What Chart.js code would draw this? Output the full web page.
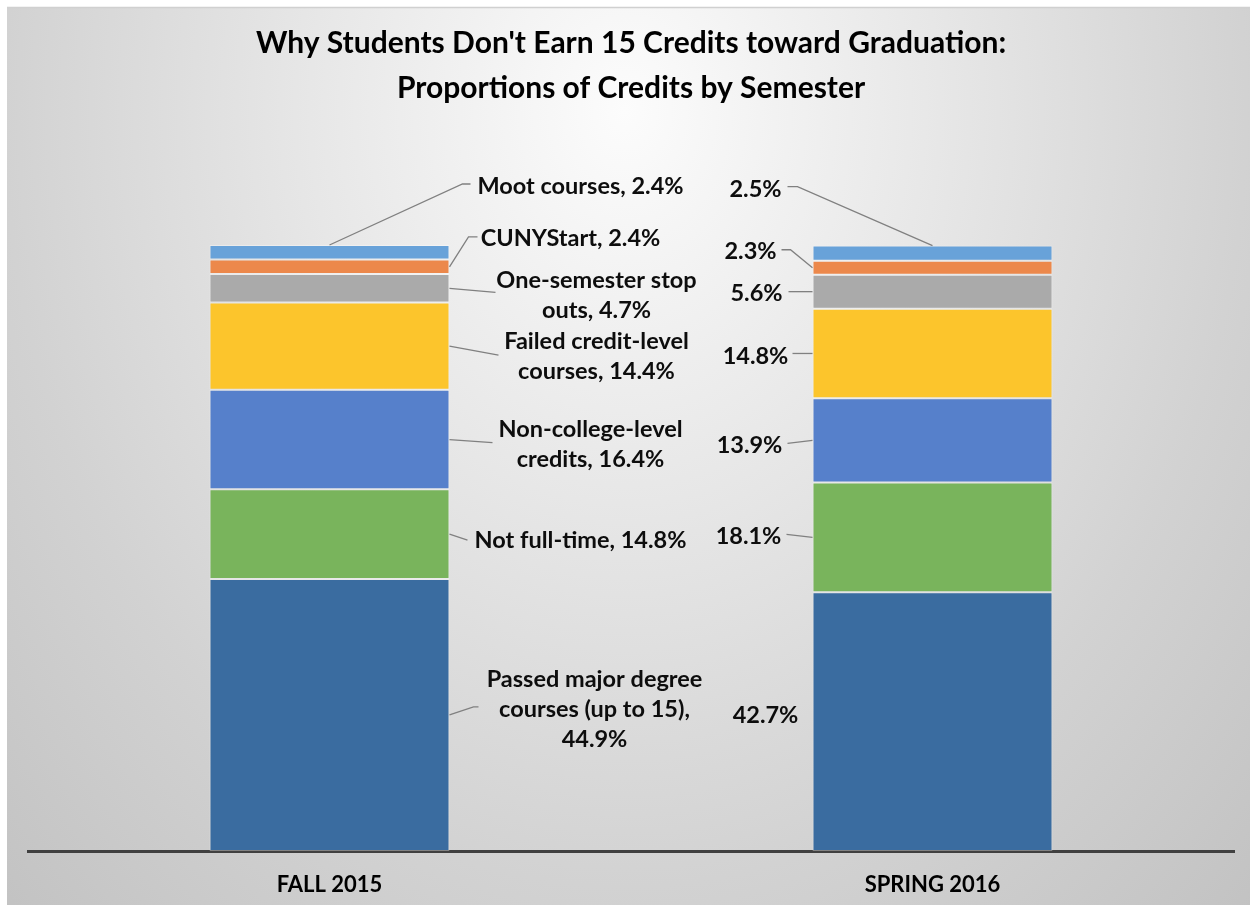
<!DOCTYPE html>
<html>
<head>
<meta charset="utf-8">
<script src="https://cdn.jsdelivr.net/npm/chart.js@4.4.1/dist/chart.umd.min.js"></script>
<style>
  html, body { margin: 0; padding: 0; background: #fff; }
  #wrap { width: 1250px; height: 905px; }
</style>
</head>
<body>
<div id="wrap"><canvas id="myChart" width="1250" height="905"></canvas></div>
<script>
// data (percent of credits)
var semesters = ['FALL 2015', 'SPRING 2016'];
var seriesNames = ['Passed major degree courses (up to 15)', 'Not full-time', 'Non-college-level credits',
    'Failed credit-level courses', 'One-semester stop outs', 'CUNYStart', 'Moot courses'];
var passed = [44.9, 42.7];
var notFullTime = [14.8, 18.1];
var nonCollege = [16.4, 13.9];
var failedCredit = [14.4, 14.8];
var stopOuts = [4.7, 5.6];
var cunyStart = [2.4, 2.3];
var moot = [2.4, 2.5];

var colors = ['#3a6ca0', '#79b45c', '#5680cb', '#fcc52c', '#aaaaaa', '#ec884b', '#68a2d9'];

// label placement (Excel moved them by hand): anchor side, leader bends, text offset, words per line
var fallPlace = [
    { from: 'right', leader: [[24, -8], [29, -8]], text: [145, -6], words: [3, 4, 1] },
    { from: 'right', leader: [[18, 6]], text: [131, 6], words: null },
    { from: 'right', leader: [[43, 3]], text: [141, 5], words: [1, 2] },
    { from: 'right', leader: [[49, 9]], text: [147, 10], words: [2, 2] },
    { from: 'right', leader: [[46, 4]], text: [147, 7], words: [2, 2] },
    { from: 'right', leader: [[19, -30], [28, -30]], text: [121, -28], words: null },
    { from: 'top', leader: [[133, -61], [141, -61]], text: [251, -59], words: null }
];
var springPlace = [
    { from: 'left', leader: [], text: [-47, -6] },
    { from: 'left', leader: [[-26, -3]], text: [-64, -1] },
    { from: 'left', leader: [[-25, 3]], text: [-63, 5] },
    { from: 'left', leader: [[-20, 0]], text: [-57, 3] },
    { from: 'left', leader: [[-24, 0]], text: [-56, 2] },
    { from: 'left', leader: [[-22, -18], [-31, -18]], text: [-62, -16] },
    { from: 'top', leader: [[-135, -59], [-145, -59]], text: [-177, -56] }
];
var placement = [fallPlace, springPlace];

var seriesValues = [passed, notFullTime, nonCollege, failedCredit, stopOuts, cunyStart, moot];

var backgroundPlugin = {
    id: 'bg',
    beforeDraw: function(chart) {
        var ctx = chart.ctx;
        ctx.save();
        ctx.fillStyle = '#ffffff';
        ctx.fillRect(0, 0, chart.width, chart.height);
        ctx.translate(625, 110);
        ctx.scale(1, 1.25);
        var g = ctx.createRadialGradient(0, 0, 0, 0, 0, 900);
        g.addColorStop(0, '#fcfcfc');
        g.addColorStop(0.35, '#e7e7e7');
        g.addColorStop(0.69, '#d2d2d2');
        g.addColorStop(1, '#c2c2c2');
        ctx.fillStyle = g;
        ctx.fillRect(7 - 625, (7 - 110) / 1.25, chart.width, chart.height / 1.25);
        ctx.restore();
        ctx.save();
        ctx.strokeStyle = '#d0d0d0';
        ctx.lineWidth = 1.5;
        ctx.beginPath();
        ctx.moveTo(7, 7.5);
        ctx.lineTo(chart.width, 7.5);
        ctx.stroke();
        ctx.restore();
    },
    afterDraw: function(chart) {
        var ctx = chart.ctx;
        ctx.save();
        ctx.fillStyle = '#000';
        ctx.font = 'bold 30px Lato';
        ctx.textAlign = 'center';
        ctx.textBaseline = 'middle';
        ctx.fillText("Why Students Don't Earn 15 Credits toward Graduation:", 631, 43);
        ctx.fillText('Proportions of Credits by Semester', 631, 88);
        ctx.restore();
    }
};

var leaderLabels = {
    id: 'leaderLabels',
    afterDatasetsDraw: function(chart) {
        var ctx = chart.ctx;
        ctx.save();
        ctx.font = 'bold 23.5px Lato';
        ctx.fillStyle = '#0d0d0d';
        ctx.strokeStyle = '#808080';
        ctx.lineWidth = 1.3;
        ctx.textAlign = 'center';
        ctx.textBaseline = 'middle';
        chart.data.datasets.forEach(function(ds, di) {
            var meta = chart.getDatasetMeta(di);
            meta.data.forEach(function(bar, i) {
                var p = placement[i][di];
                var half = bar.width / 2;
                var top = Math.min(bar.y, bar.base), bot = Math.max(bar.y, bar.base);
                var ax, ay;
                if (p.from == 'top') { ax = bar.x; ay = top; }
                else if (p.from == 'right') { ax = bar.x + half; ay = (top + bot) / 2; }
                else { ax = bar.x - half; ay = (top + bot) / 2; }

                if (p.leader.length) {
                    ctx.beginPath();
                    ctx.moveTo(ax, ay);
                    p.leader.forEach(function(pt) { ctx.lineTo(ax + pt[0], ay + pt[1]); });
                    ctx.stroke();
                }

                var value = ds.data[i].toFixed(1) + '%';
                var lines;
                if (i == 0) {
                    var txt = ds.label + ', ' + value;
                    if (p.words) {
                        var w = txt.split(' ');
                        lines = [];
                        var k = 0;
                        p.words.forEach(function(n) { lines.push(w.slice(k, k + n).join(' ')); k += n; });
                    } else {
                        lines = [txt];
                    }
                } else {
                    lines = [value];
                }
                var lh = 30;
                var cx = ax + p.text[0], cy = ay + p.text[1];
                var y0 = cy - (lines.length - 1) * lh / 2;
                lines.forEach(function(l, j) { ctx.fillText(l, cx, y0 + j * lh); });
            });
        });
        ctx.restore();
    }
};

var datasets = seriesNames.map(function(name, k) {
    return {
        label: name,
        data: seriesValues[k],
        backgroundColor: colors[k],
        borderColor: 'rgba(255,255,255,0.35)',
        borderWidth: 1,
        borderSkipped: false,
        barPercentage: 0.398,
        categoryPercentage: 1
    };
});

var ctx = document.getElementById('myChart').getContext('2d');
var chart = new Chart(ctx, {
    type: 'bar',
    data: {
        labels: semesters,
        datasets: datasets
    },
    options: {
        responsive: false,
        animation: false,
        devicePixelRatio: 1,
        layout: {
            padding: { left: 28, right: 16, top: 245, bottom: 0 }
        },
        plugins: {
            legend: { display: false },
            tooltip: { enabled: false },
            title: { display: false }
        },
        scales: {
            x: {
                stacked: true,
                grid: { display: false, drawTicks: false },
                border: { display: true, color: '#404040', width: 3 },
                ticks: {
                    color: '#000',
                    font: { family: 'Lato', weight: 'bold', size: 22 },
                    padding: 21
                },
                afterFit: function(scale) { scale.height = 54; }
            },
            y: {
                stacked: true,
                display: false,
                min: 0,
                max: 100
            }
        }
    },
    plugins: [backgroundPlugin, leaderLabels]
});
</script>
</body>
</html>
